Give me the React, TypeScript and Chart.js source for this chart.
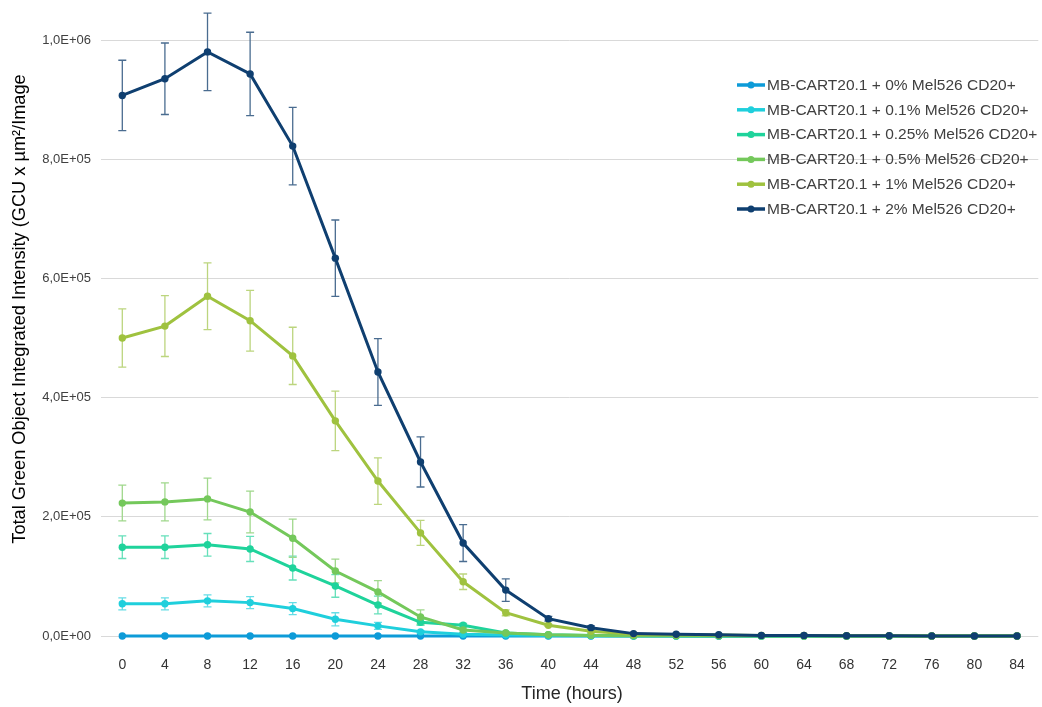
import React, { useEffect, useRef } from "react";
import { Chart, registerables } from "chart.js";

Chart.register(...registerables);

const hours = [0, 4, 8, 12, 16, 20, 24, 28, 32, 36, 40, 44, 48, 52, 56, 60, 64, 68, 72, 76, 80, 84];

const seriesNames = [
  "MB-CART20.1 + 0% Mel526 CD20+",
  "MB-CART20.1 + 0.1% Mel526 CD20+",
  "MB-CART20.1 + 0.25% Mel526 CD20+",
  "MB-CART20.1 + 0.5% Mel526 CD20+",
  "MB-CART20.1 + 1% Mel526 CD20+",
  "MB-CART20.1 + 2% Mel526 CD20+",
];

const seriesColors = ["#0d9bd8", "#1fcfdc", "#1fd39b", "#74c85b", "#9fc23f", "#0f3f70"];
const errorColors = ["#5ab8e3", "#66dde6", "#66e0ba", "#a0d88c", "#bcd57e", "#4a6c90"];

const v0 = [0, 0, 0, 0, 0, 0, 0, 0, 0, 0, 0, 0, 0, 0, 0, 0, 0, 0, 0, 0, 0, 0];
const e0 = [0, 0, 0, 0, 0, 0, 0, 0, 0, 0, 0, 0, 0, 0, 0, 0, 0, 0, 0, 0, 0, 0];

const v01 = [54000, 54000, 59000, 56000, 46000, 28000, 17000, 7000, 3000, 1500, 800, 500, 300, 200, 100, 100, 0, 0, 0, 0, 0, 0];
const e01 = [10000, 10000, 10000, 10000, 10000, 11000, 6000, 2000, 1000, 0, 0, 0, 0, 0, 0, 0, 0, 0, 0, 0, 0, 0];

const v025 = [149000, 149000, 153000, 146000, 114000, 84000, 52000, 23000, 18000, 5000, 2000, 1000, 500, 300, 200, 100, 100, 0, 0, 0, 0, 0];
const e025 = [19000, 19000, 19000, 21000, 20000, 19000, 15000, 5000, 3000, 1000, 0, 0, 0, 0, 0, 0, 0, 0, 0, 0, 0, 0];

const v05 = [223000, 225000, 230000, 208000, 164000, 109000, 74000, 32000, 10000, 5000, 2000, 1000, 600, 400, 300, 200, 100, 100, 0, 0, 0, 0];
const e05 = [30000, 32000, 35000, 35000, 32000, 20000, 19000, 12000, 4000, 2000, 0, 0, 0, 0, 0, 0, 0, 0, 0, 0, 0, 0];

const v1 = [500000, 520000, 570000, 529000, 470000, 361000, 260000, 173000, 91000, 39000, 18000, 8000, 3000, 2000, 1500, 1000, 800, 500, 300, 200, 100, 0];
const e1 = [49000, 51000, 56000, 51000, 48000, 50000, 39000, 21000, 13000, 5000, 2000, 1000, 0, 0, 0, 0, 0, 0, 0, 0, 0, 0];

const v2 = [907000, 935000, 980000, 943000, 822000, 634000, 443000, 292000, 156000, 77000, 29000, 14000, 4000, 3000, 2000, 1000, 1000, 500, 300, 200, 100, 0];
const e2 = [59000, 60000, 65000, 70000, 65000, 64000, 56000, 42000, 31000, 19000, 4000, 3000, 1000, 0, 0, 0, 0, 0, 0, 0, 0, 0];

const seriesValues = [v0, v01, v025, v05, v1, v2];
const seriesErrors = [e0, e01, e025, e05, e1, e2];

const yMax = 1000000;
const yStep = 200000;

const yTitle = "Total Green Object Integrated Intensity (GCU x µm²/Image";
const xTitle = "Time (hours)";

function formatSci(v: number): string {
  if (v === 0) return "0,0E+00";
  const exp = Math.floor(Math.log10(Math.abs(v)) + 1e-9);
  const mant = v / Math.pow(10, exp);
  const sign = exp >= 0 ? "+" : "-";
  return mant.toFixed(1).replace(".", ",") + "E" + sign + String(Math.abs(exp)).padStart(2, "0");
}

const errorBarPlugin = {
  id: "errorBars",
  beforeDatasetsDraw(chart: any) {
    const ctx = chart.ctx;
    const yScale = chart.scales.y;
    ctx.save();
    chart.data.datasets.forEach((ds: any, i: number) => {
      const meta = chart.getDatasetMeta(i);
      const errs = seriesErrors[i];
      ctx.strokeStyle = errorColors[i];
      ctx.lineWidth = 1.3;
      meta.data.forEach((pt: any, j: number) => {
        const e = errs[j];
        if (!e) return;
        const v = ds.data[j];
        const yTop = yScale.getPixelForValue(v + e);
        const yBot = yScale.getPixelForValue(Math.max(v - e, 0));
        const x = pt.x;
        ctx.beginPath();
        ctx.moveTo(x, yTop);
        ctx.lineTo(x, yBot);
        ctx.moveTo(x - 4, yTop);
        ctx.lineTo(x + 4, yTop);
        ctx.moveTo(x - 4, yBot);
        ctx.lineTo(x + 4, yBot);
        ctx.stroke();
      });
    });
    ctx.restore();
  },
};

const decorPlugin = {
  id: "decor",
  afterDraw(chart: any) {
    const ctx = chart.ctx;
    ctx.save();
    // legend
    const lx = 737;
    const ly0 = 85;
    const dy = 24.8;
    ctx.font = "15.5px 'Liberation Sans', Arial, sans-serif";
    ctx.textBaseline = "middle";
    ctx.textAlign = "left";
    seriesNames.forEach((name, i) => {
      const y = ly0 + i * dy;
      ctx.strokeStyle = seriesColors[i];
      ctx.lineWidth = 3.5;
      ctx.beginPath();
      ctx.moveTo(lx, y);
      ctx.lineTo(lx + 28, y);
      ctx.stroke();
      ctx.fillStyle = seriesColors[i];
      ctx.beginPath();
      ctx.arc(lx + 14, y, 3.5, 0, Math.PI * 2);
      ctx.fill();
      ctx.fillStyle = "#404040";
      ctx.fillText(name, lx + 30, y + 0.5);
    });
    // y title
    ctx.save();
    ctx.translate(20, 309);
    ctx.rotate(-Math.PI / 2);
    ctx.font = "18.2px 'Liberation Sans', Arial, sans-serif";
    ctx.fillStyle = "#000000";
    ctx.textAlign = "center";
    ctx.textBaseline = "middle";
    ctx.fillText(yTitle, 0, 0);
    ctx.restore();
    // x title
    ctx.font = "18px 'Liberation Sans', Arial, sans-serif";
    ctx.fillStyle = "#262626";
    ctx.textAlign = "center";
    ctx.textBaseline = "middle";
    ctx.fillText(xTitle, 572, 694);
    ctx.restore();
  },
};

export default function App() {
  const ref = useRef<HTMLCanvasElement | null>(null);

  useEffect(() => {
    if (!ref.current) return;
    const datasets = seriesNames.map((name, i) => ({
      label: name,
      data: seriesValues[i],
      borderColor: seriesColors[i],
      backgroundColor: seriesColors[i],
      borderWidth: 3,
      pointRadius: 3.7,
      pointHoverRadius: 3.7,
      pointBorderWidth: 0,
      pointBackgroundColor: seriesColors[i],
      tension: 0,
      fill: false,
      clip: 8,
      order: seriesNames.length - i,
    }));
    const chart = new Chart(ref.current, {
      type: "line",
      data: { labels: hours.map(String), datasets },
      options: {
        responsive: false,
        animation: false,
        layout: { padding: { top: 40, right: 2, left: 0, bottom: 0 } },
        plugins: {
          legend: { display: false },
          tooltip: { enabled: false },
          title: { display: false },
        },
        scales: {
          x: {
            type: "category",
            offset: true,
            grid: { display: false, drawTicks: true, tickLength: 21 },
            border: { display: false },
            ticks: {
              color: "#333333",
              font: { family: "'Liberation Sans', Arial, sans-serif", size: 14 },
              padding: 0,
              maxRotation: 0,
              autoSkip: false,
            },
            afterFit: (s: any) => {
              s.height = 71;
            },
          },
          y: {
            min: 0,
            max: yMax,
            grid: { color: "#d9d9d9", lineWidth: 1, drawTicks: false },
            border: { display: false },
            ticks: {
              stepSize: yStep,
              color: "#404040",
              font: { family: "'Liberation Sans', Arial, sans-serif", size: 13 },
              padding: 10,
              callback: (v: any) => formatSci(Number(v)),
            },
            afterFit: (s: any) => {
              s.width = 101;
            },
          },
        },
      },
      plugins: [errorBarPlugin, decorPlugin],
    });
    return () => chart.destroy();
  }, []);

  return (
    <div style={{ position: "fixed", left: 0, top: 0, width: 1042, height: 707, background: "#ffffff" }}>
      <canvas ref={ref} width={1042} height={707} style={{ display: "block" }} />
    </div>
  );
}
